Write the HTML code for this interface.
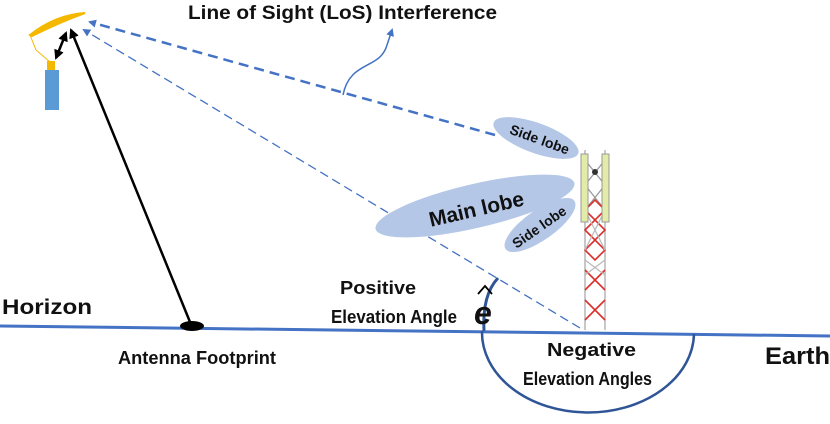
<!DOCTYPE html>
<html><head><style>
body{margin:0;background:#fff;}
svg{display:block;}
text{font-family:"Liberation Sans",sans-serif;font-weight:bold;fill:#111;}
</style></head><body>
<svg width="830" height="424" viewBox="0 0 830 424" xmlns="http://www.w3.org/2000/svg">
<defs>
<marker id="ab" markerWidth="8" markerHeight="8" refX="6" refY="4" orient="auto" markerUnits="userSpaceOnUse"><path d="M0,0 L8,4 L0,8 z" fill="#4472c4"/></marker>
<marker id="ak" markerWidth="10" markerHeight="10" refX="8" refY="5" orient="auto" markerUnits="userSpaceOnUse"><path d="M0,0 L10,5 L0,10 z" fill="#000"/></marker>
<marker id="aks" markerWidth="10" markerHeight="10" refX="2" refY="5" orient="auto" markerUnits="userSpaceOnUse"><path d="M10,0 L0,5 L10,10 z" fill="#000"/></marker>
</defs>
<line x1="0" y1="326" x2="830" y2="336" stroke="#4472c4" stroke-width="3"/>
<path d="M482,331 A106,80 0 0 0 694,334" fill="none" stroke="#2f5597" stroke-width="2.5"/>
<path d="M484,331 Q482,295 498,278" fill="none" stroke="#2f5597" stroke-width="3"/>
<line x1="495" y1="135" x2="90" y2="22" stroke="#4472c4" stroke-width="2.5" stroke-dasharray="10,6" marker-end="url(#ab)"/>
<line x1="580" y1="328" x2="84" y2="30" stroke="#4472c4" stroke-width="1.3" stroke-dasharray="9,5" marker-end="url(#ab)"/>
<path d="M343,95 C350,60 380,70 387,45 L392,30" fill="none" stroke="#4472c4" stroke-width="1.5" marker-end="url(#ab)"/>
<ellipse cx="475" cy="206" rx="102" ry="22" transform="rotate(-13 475 206)" fill="#b4c7e7"/>
<ellipse cx="536" cy="138" rx="45" ry="15" transform="rotate(20 536 138)" fill="#b4c7e7"/>
<ellipse cx="540" cy="225" rx="42" ry="15" transform="rotate(-35 540 225)" fill="#b4c7e7"/>
<text x="478" y="216" font-size="21" text-anchor="middle" transform="rotate(-13 478 216)">Main lobe</text>
<text x="538" y="144" font-size="14" text-anchor="middle" transform="rotate(20 538 144)">Side lobe</text>
<text x="542" y="231" font-size="14" text-anchor="middle" transform="rotate(-35 542 231)">Side lobe</text>
<g stroke-width="1.3">
<line x1="585" y1="150" x2="585" y2="330" stroke="#aaa"/>
<line x1="605" y1="150" x2="605" y2="330" stroke="#aaa"/>
<path d="M585,160 L605,185 M605,160 L585,185 M585,185 L605,210 M605,185 L585,210" stroke="#999"/>
<path d="M585,210 L595,200 L605,210 L595,220 z M585,230 L595,220 L605,230 L595,240 z M585,250 L595,240 L605,250 L595,260 z M585,270 L605,290 M605,270 L585,290 M585,300 L605,320 M605,300 L585,320" stroke="#d9302c" fill="none" stroke-width="1.6"/>
<path d="M585,210 L605,250 M605,210 L585,250 M585,260 L605,275 M605,260 L585,275" stroke="#bbb"/>
</g>
<rect x="581" y="154" width="7" height="68" fill="#e2eba8" stroke="#999"/>
<rect x="602" y="154" width="7" height="68" fill="#e2eba8" stroke="#999"/>
<circle cx="595" cy="172" r="3" fill="#333"/>
<path d="M30,35 Q55,15 85,13 Q60,22 32,36 z" fill="#f5b800" stroke="#f5b800" stroke-width="2"/>
<path d="M30,35 L36,50 L50,62" fill="none" stroke="#f5b800" stroke-width="1"/>
<rect x="47" y="61" width="8" height="9" fill="#f5b800"/>
<rect x="45" y="70" width="14" height="40" fill="#5b9bd5"/>
<line x1="56" y1="58" x2="66" y2="33" stroke="#000" stroke-width="2.5" marker-end="url(#ak)" marker-start="url(#aks)"/>
<line x1="190" y1="322" x2="71" y2="30" stroke="#000" stroke-width="2.5" marker-end="url(#ak)"/>
<ellipse cx="192" cy="326" rx="12" ry="5" fill="#000"/>
<text x="188" y="19" font-size="19" textLength="309" lengthAdjust="spacingAndGlyphs">Line of Sight (LoS) Interference</text>
<text x="2" y="314" font-size="21" textLength="90" lengthAdjust="spacingAndGlyphs">Horizon</text>
<text x="765" y="364" font-size="24" textLength="65" lengthAdjust="spacingAndGlyphs">Earth</text>
<text x="118" y="364" font-size="18" textLength="158" lengthAdjust="spacingAndGlyphs">Antenna Footprint</text>
<text x="340" y="294" font-size="18" textLength="76" lengthAdjust="spacingAndGlyphs">Positive</text>
<text x="331" y="323" font-size="18" textLength="126" lengthAdjust="spacingAndGlyphs">Elevation Angle</text>
<text x="547" y="356" font-size="18" textLength="89" lengthAdjust="spacingAndGlyphs">Negative</text>
<text x="523" y="385" font-size="18" textLength="129" lengthAdjust="spacingAndGlyphs">Elevation Angles</text>
<text x="474" y="324" font-size="32" font-style="italic" font-weight="normal" font-family="Liberation Serif,serif" fill="#000">e</text>
<path d="M478,294 L485,286 L492,294" fill="none" stroke="#000" stroke-width="1.8"/>
</svg>
</body></html>
